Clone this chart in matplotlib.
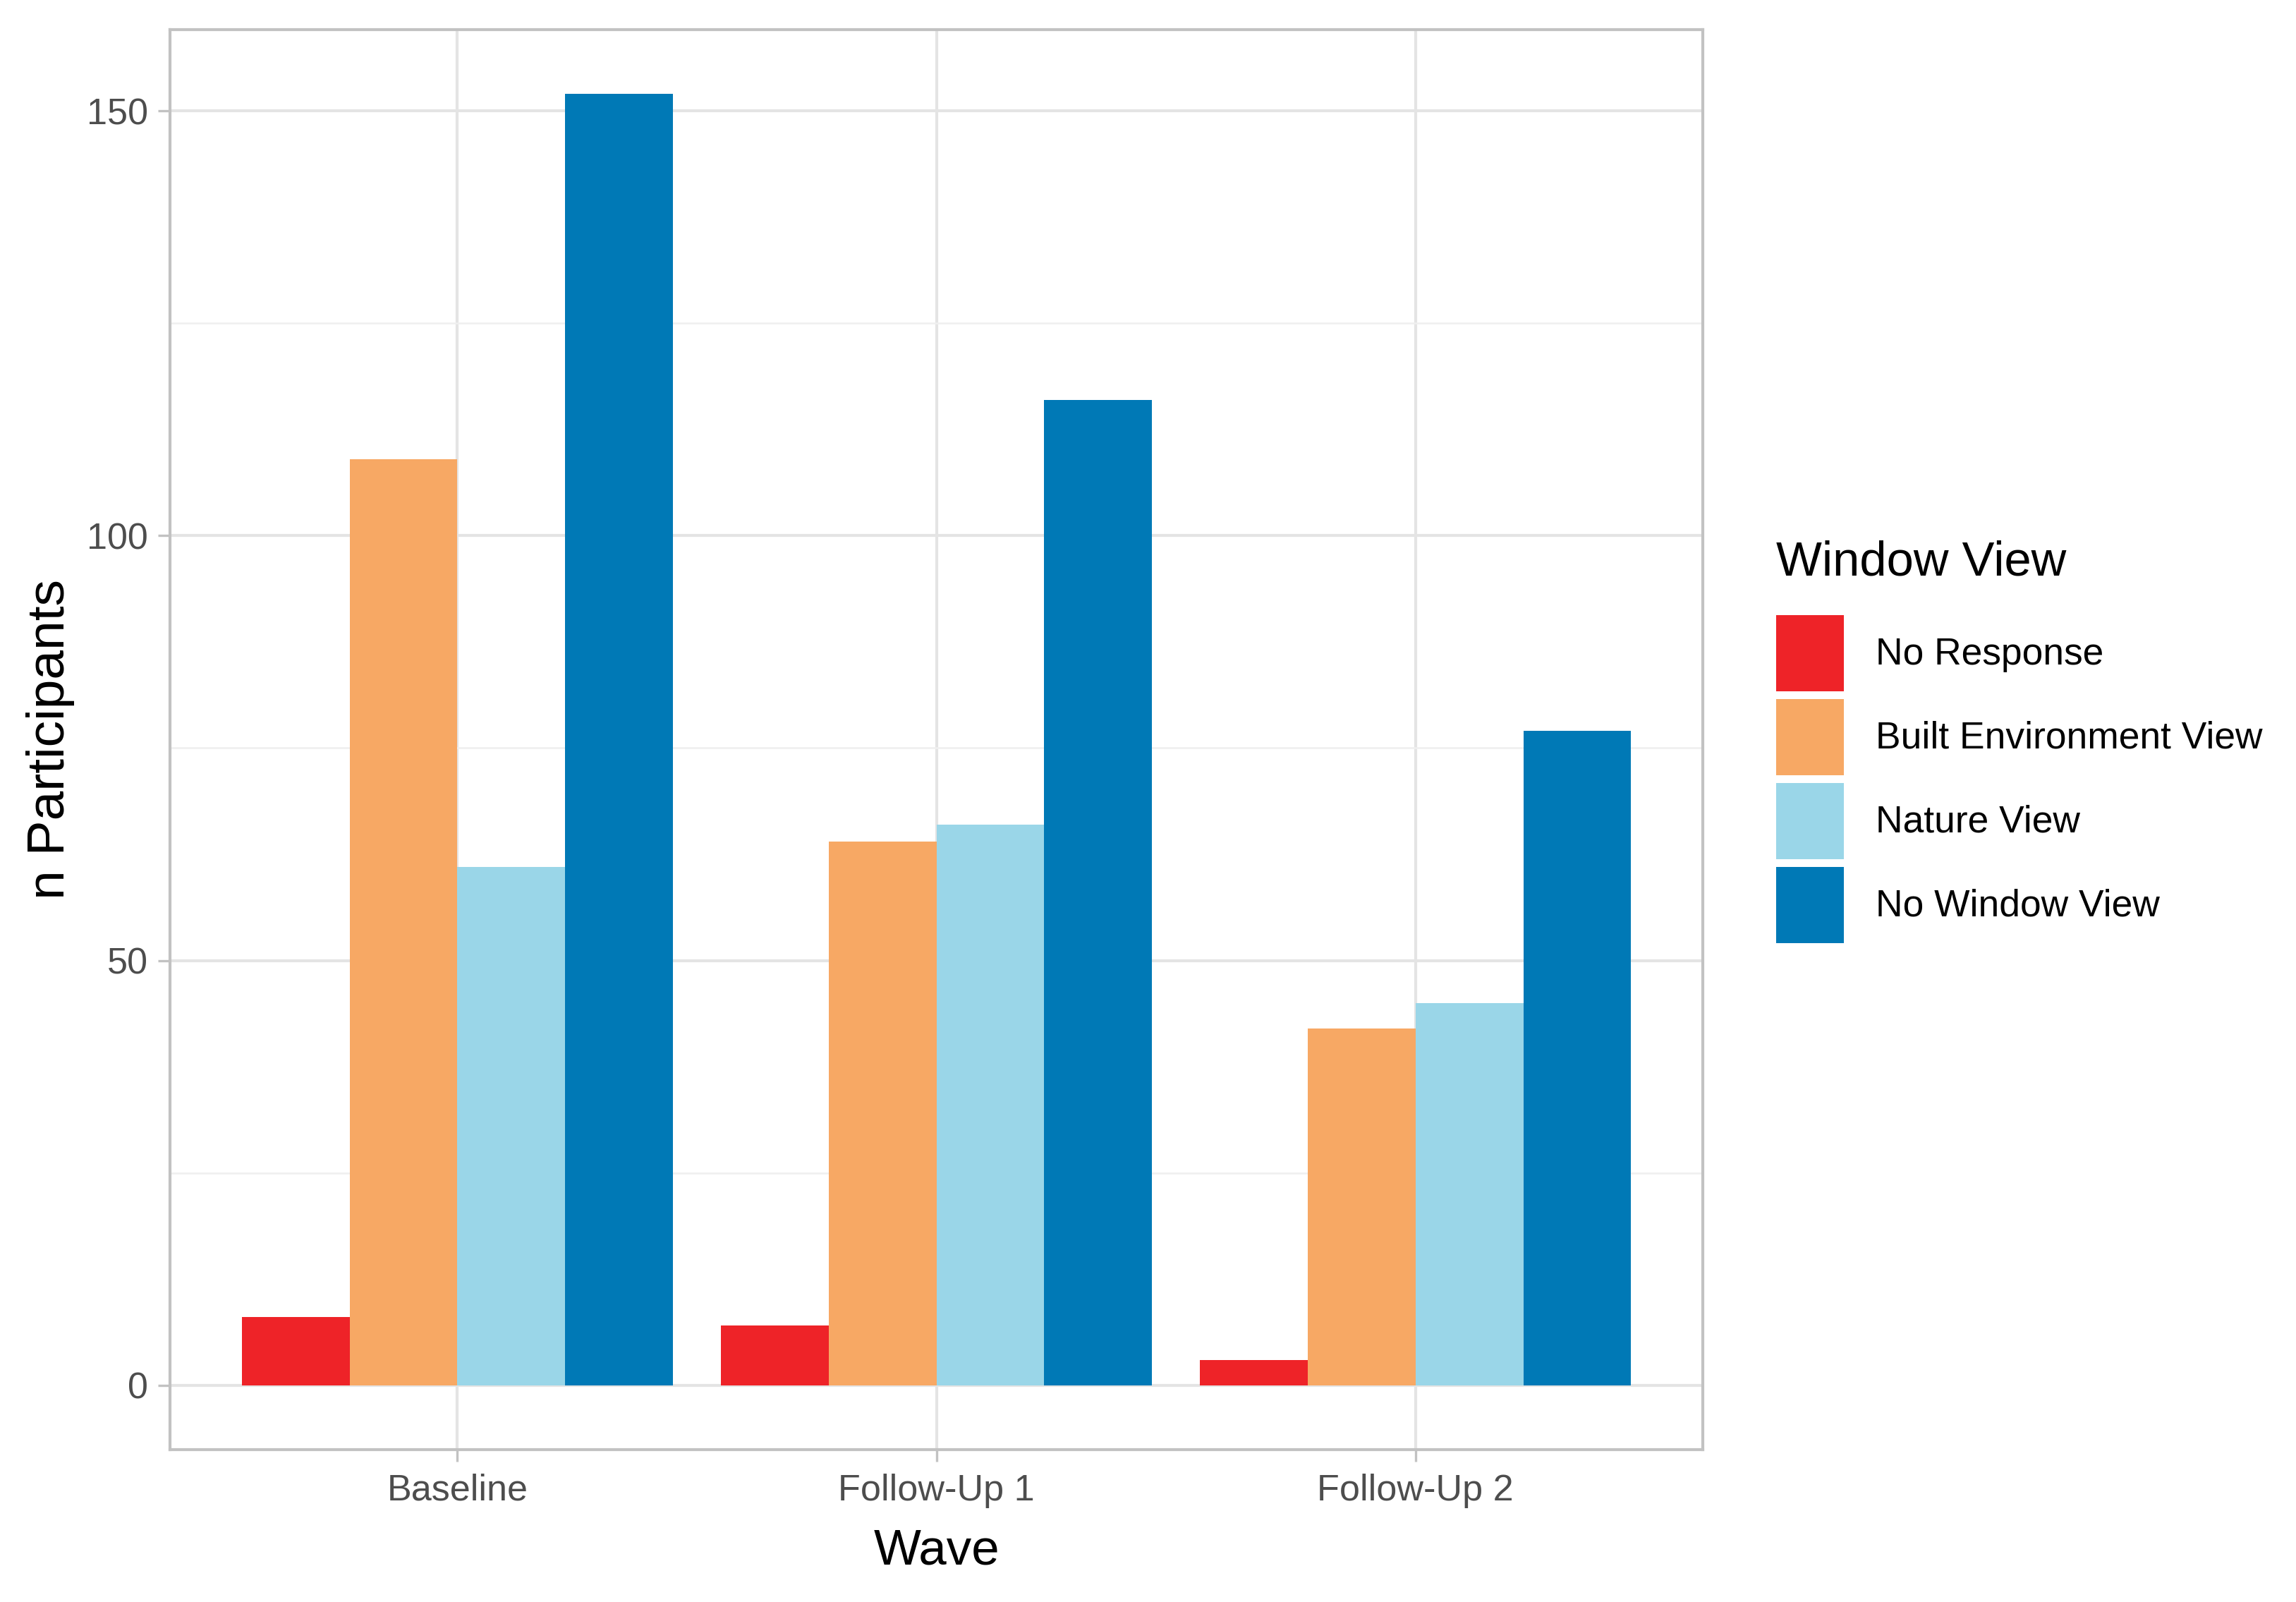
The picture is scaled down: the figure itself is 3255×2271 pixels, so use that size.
import numpy as np
import matplotlib
matplotlib.use('Agg')
import matplotlib.pyplot as plt

plt.rcParams['font.family'] = ['Liberation Sans', 'DejaVu Sans']

# data
waves = ['Baseline', 'Follow-Up 1', 'Follow-Up 2']
views = ['No Response', 'Built Environment View', 'Nature View', 'No Window View']
no_response = [8, 7, 3]
built_env = [109, 64, 42]
nature = [61, 66, 45]
no_window = [152, 116, 77]
colors = ['#EE2328', '#F7A864', '#9AD6E8', '#0079B6']

series = [no_response, built_env, nature, no_window]

fig = plt.figure(figsize=(10.85, 7.57), dpi=300)
ax = fig.add_axes([0.074, 0.095, 0.6677, 0.8867])

x = np.arange(1, len(waves) + 1)
w = 0.9 / len(views)
for i, (vals, name) in enumerate(zip(series, views)):
    ax.bar(x - 0.45 + w * (i + 0.5), vals, width=w, color=colors[i], label=name, zorder=2)

ax.set_xlim(0.4, 3.6)
ax.set_ylim(-7.6, 159.6)
ax.set_xticks(x)
ax.set_xticklabels(waves)
ax.set_yticks([0, 50, 100, 150])
ax.set_yticks([25, 75, 125], minor=True)

# ggplot theme_light look
ax.grid(True, which='major', color='#E4E4E4', linewidth=1.0, zorder=0)
ax.grid(True, which='minor', axis='y', color='#EFEFEF', linewidth=0.6, zorder=0)
ax.set_axisbelow(True)
for sp in ax.spines.values():
    sp.set_color('#C2C2C2')
    sp.set_linewidth(1.0)
ax.tick_params(which='major', length=4, color='#C2C2C2', labelsize=12.5, labelcolor='#4D4D4D', pad=4)
ax.tick_params(axis='y', pad=3.5)
ax.tick_params(which='minor', length=0)

ax.set_xlabel('Wave', fontsize=17, labelpad=7)
ax.set_ylabel('n Participants', fontsize=18, labelpad=4)

leg = ax.legend(title='Window View', loc='center left', bbox_to_anchor=(0.7670, 0.537),
                bbox_transform=fig.transFigure, frameon=False, fontsize=12.8,
                title_fontsize=16.5, handlelength=1.8, handleheight=2.75,
                labelspacing=0.2, handletextpad=0.85, borderaxespad=0, alignment='left')
leg._legend_box.sep = 10

fig.savefig('out.png', dpi=300, facecolor='white')
